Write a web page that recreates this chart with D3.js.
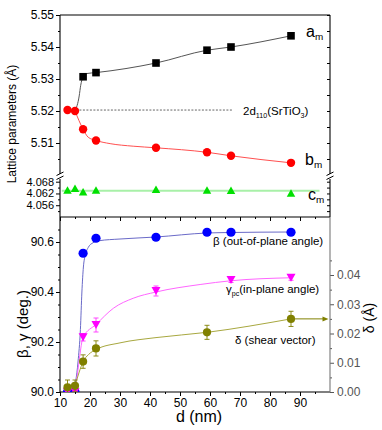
<!DOCTYPE html>
<html>
<head>
<meta charset="utf-8">
<script src="https://cdn.jsdelivr.net/npm/d3@7"></script>
<style>
  body { margin: 0; background: #fff; }
  text { font-family: Arial, "Liberation Sans", sans-serif; }
</style>
</head>
<body>
<div id="chart"></div>
<script>
// film thickness d (nm)
const thickness = [12.5, 15, 17.7, 22, 42, 59, 67, 87];

// top panel: lattice parameters (A)
const aD = [17.7, 22, 42, 59, 67, 87];
const aM = [5.5307, 5.532, 5.535, 5.539, 5.540, 5.5435];
const bM = [5.5203, 5.5200, 5.5143, 5.5108, 5.5085, 5.5071, 5.5060, 5.5038];
const cM = [4.0638, 4.0646, 4.0629, 4.0638, 4.0641, 4.0638, 4.0636, 4.0622];

// fitted guide curves
const aFitD = [15, 16.4, 16.9, 17.7, 18.9, 22, 42, 59, 67, 87];
const aFit = [5.520, 5.5247, 5.528, 5.5307, 5.5317, 5.532, 5.535, 5.539, 5.540, 5.5435];
const bFitD = [15, 17.7, 19.4, 22, 26.7, 34.4, 42, 59, 67, 87];
const bFit = [5.520, 5.5143, 5.5118, 5.5108, 5.5098, 5.509, 5.5085, 5.5071, 5.506, 5.5038];
const cRefD = [10.6, 96.5];
const cRef = 4.0634;
const stoD = [15.3, 67.8];
const sto = 5.5203;

// bottom panel: angles (deg.) and shear vector (A)
const beta = [90.0, 90.0, 90.555, 90.615, 90.619, 90.639, 90.639, 90.639];
const betaFitD = [14.5, 16, 16.8, 17.3, 17.8, 18.5, 19.5, 21, 23, 30, 42, 59, 67, 87];
const betaFit = [90.0, 90.12, 90.25, 90.4, 90.5, 90.55, 90.58, 90.597, 90.605, 90.612, 90.62, 90.636, 90.638, 90.64];

const gammaD = [12.5, 15, 17.7, 22, 42, 67, 87];
const gamma = [90.0, 90.0, 90.219, 90.268, 90.404, 90.448, 90.457];
const gammaErr = [0, 0, 0.015, 0.028, 0.02, 0.01, 0.01];
const gammaFitD = [15, 16, 17.7, 22, 27.8, 34.4, 42, 56.7, 67, 87];
const gammaFit = [90.0, 90.09, 90.219, 90.27, 90.335, 90.375, 90.40, 90.43, 90.445, 90.457];

const deltaD = [12.5, 15, 17.7, 22, 59, 87];
const delta = [0.0016, 0.0021, 0.0104, 0.0149, 0.0204, 0.025];
const deltaErr = [0.0025, 0.002, 0.0023, 0.0026, 0.0024, 0.0026];
const deltaFitD = [15, 16.3, 17.7, 19.5, 22, 30, 42, 59, 87];
const deltaFit = [0.0021, 0.0065, 0.0104, 0.0128, 0.0145, 0.0168, 0.0186, 0.0204, 0.025];
const arrowD = [87, 99.5];

// ticks
const xMajor = [10, 20, 30, 40, 50, 60, 70, 80, 90];
const xMinor = [15, 25, 35, 45, 55, 65, 75, 85, 95];
const aTicks = [5.51, 5.52, 5.53, 5.54, 5.55];
const aMinor = [5.505, 5.515, 5.525, 5.535, 5.545];
const cTicks = [4.056, 4.062, 4.068];
const cMinor = [4.053, 4.059, 4.065];
const bTicks = [90.0, 90.2, 90.4, 90.6];
const bMinor = [90.05, 90.1, 90.15, 90.25, 90.3, 90.35, 90.45, 90.5, 90.55, 90.65];
const dTicks = [0, 0.01, 0.02, 0.03, 0.04];
const dMinor = [0.005, 0.015, 0.025, 0.035, 0.045];

var svgwidth = 382;
var svgheight = 430;

var svg = d3.select('#chart')
    .append('svg')
    .attr('width', svgwidth)
    .attr('height', svgheight);

var x = d3.scaleLinear().domain([10, 100]).range([60, 330]);
var yA = d3.scaleLinear().domain([5.50, 5.55]).range([175, 15]);
var yC = d3.scaleLinear().domain([4.050, 4.0707]).range([217, 176.4]);
var yB = d3.scaleLinear().domain([90.0, 90.7]).range([392, 217]);
var yD = d3.scaleLinear().domain([0, 0.06]).range([392, 216.5]);

function drawAxis(gen, tx, ty, color) {
    var g = svg.append('g')
        .attr('transform', `translate(${tx}, ${ty})`)
        .call(gen);
    g.select('.domain').remove();
    g.selectAll('line').attr('stroke', color || '#000');
    g.selectAll('text').style('font-size', '12px').attr('fill', color || '#000');
    return g;
}

// top panel axes
drawAxis(d3.axisLeft(yA).tickValues(aTicks).tickFormat(d3.format('.2f')).tickSize(4).tickPadding(2), 60, 0);
drawAxis(d3.axisLeft(yA).tickValues(aMinor).tickFormat('').tickSize(2), 60, 0);
drawAxis(d3.axisLeft(yC).tickValues(cTicks).tickFormat(d3.format('.3f')).tickSize(4).tickPadding(2), 60, 0)
    .selectAll('text').style('font-size', '11px');
drawAxis(d3.axisLeft(yC).tickValues(cMinor).tickFormat('').tickSize(2), 60, 0);
drawAxis(d3.axisLeft(yA).tickValues(aTicks.concat(aMinor)).tickFormat('').tickSize(3), 330, 0);
drawAxis(d3.axisLeft(yC).tickValues(cTicks.concat(cMinor)).tickFormat('').tickSize(3), 330, 0);
drawAxis(d3.axisBottom(x).tickValues(xMajor).tickFormat('').tickSize(4), 0, 217);
drawAxis(d3.axisBottom(x).tickValues(xMinor).tickFormat('').tickSize(2), 0, 217);

// bottom panel axes
drawAxis(d3.axisLeft(yB).tickValues(bTicks).tickFormat(d3.format('.1f')).tickSize(4).tickPadding(2), 60, 0);
drawAxis(d3.axisLeft(yB).tickValues(bMinor).tickFormat('').tickSize(2), 60, 0);
drawAxis(d3.axisBottom(x).tickValues(xMajor).tickFormat(d3.format('d')).tickSize(4).tickPadding(2), 0, 392);
drawAxis(d3.axisBottom(x).tickValues(xMinor).tickFormat('').tickSize(2), 0, 392);
drawAxis(d3.axisRight(yD).tickValues(dTicks).tickFormat(d3.format('.2f')).tickSize(4).tickPadding(3), 330, 0, '#555');
drawAxis(d3.axisRight(yD).tickValues(dMinor).tickFormat('').tickSize(2), 330, 0, '#555');

// frame lines
var frame = svg.append('g').attr('stroke', '#000').attr('stroke-width', 1.1);
[[60, 15, 330, 15], [60, 15, 60, 174], [60, 179, 60, 392], [330, 15, 330, 174], [330, 179, 330, 217],
 [60, 217, 330, 217], [60, 392, 330, 392]].forEach(l => {
    frame.append('line').attr('x1', l[0]).attr('y1', l[1]).attr('x2', l[2]).attr('y2', l[3]);
});
svg.append('line').attr('x1', 330).attr('y1', 217).attr('x2', 330).attr('y2', 392)
    .attr('stroke', '#777').attr('stroke-width', 1.1);

// axis break marks
[60, 330].forEach(bx => {
    svg.append('line').attr('x1', bx - 3.5).attr('y1', 175.5).attr('x2', bx + 3.5).attr('y2', 172)
        .attr('stroke', '#000');
    svg.append('line').attr('x1', bx - 3.5).attr('y1', 179.5).attr('x2', bx + 3.5).attr('y2', 176)
        .attr('stroke', '#000');
});

// top panel data
var curve = d3.curveMonotoneX;
var lineA = d3.line().x(d => x(d[0])).y(d => yA(d[1])).curve(curve);
var lineC = d3.line().x(d => x(d[0])).y(d => yC(d[1]));

svg.append('path')
    .datum(stoD.map(d => [d, sto]))
    .attr('d', d3.line().x(d => x(d[0])).y(d => yA(d[1])))
    .attr('stroke', '#222').attr('stroke-width', 0.7).attr('stroke-dasharray', '2,1.5')
    .attr('fill', 'none');

svg.append('path')
    .datum(cRefD.map(d => [d, cRef]))
    .attr('d', lineC)
    .attr('stroke', '#a8f0a8').attr('stroke-width', 2).attr('fill', 'none');

svg.append('path')
    .datum(aFitD.map((d, i) => [d, aFit[i]]))
    .attr('d', lineA)
    .attr('stroke', '#555').attr('stroke-width', 1).attr('fill', 'none');

svg.append('path')
    .datum(bFitD.map((d, i) => [d, bFit[i]]))
    .attr('d', lineA)
    .attr('stroke', '#ff5050').attr('stroke-width', 1).attr('fill', 'none');

svg.selectAll('.sq')
    .data(aD.map((d, i) => [d, aM[i]]))
    .enter().append('rect')
    .attr('x', d => x(d[0]) - 3.8).attr('y', d => yA(d[1]) - 3.8)
    .attr('width', 7.6).attr('height', 7.6)
    .attr('fill', '#000');

svg.selectAll('.bc')
    .data(thickness.map((d, i) => [d, bM[i]]))
    .enter().append('circle')
    .attr('cx', d => x(d[0])).attr('cy', d => yA(d[1]))
    .attr('r', 4.2).attr('fill', '#ff0000');

function triUp(cx, cy, w, h) {
    return `M${cx - w / 2},${cy + h / 2}L${cx + w / 2},${cy + h / 2}L${cx},${cy - h / 2}Z`;
}
function triDown(cx, cy, w, h) {
    return `M${cx - w / 2},${cy - h / 2}L${cx + w / 2},${cy - h / 2}L${cx},${cy + h / 2}Z`;
}

svg.selectAll('.ct')
    .data(thickness.map((d, i) => [d, cM[i]]))
    .enter().append('path')
    .attr('d', d => triUp(x(d[0]), yC(d[1]), 8.5, 7.5))
    .attr('fill', '#00e000');

// bottom panel data, clipped to the plot area
svg.append('clipPath').attr('id', 'clipB')
    .append('rect').attr('x', 60).attr('y', 217).attr('width', 270).attr('height', 175);
var gb = svg.append('g').attr('clip-path', 'url(#clipB)');

var lineB = d3.line().x(d => x(d[0])).y(d => yB(d[1])).curve(curve);
var lineD = d3.line().x(d => x(d[0])).y(d => yD(d[1])).curve(curve);

gb.append('path')
    .datum(betaFitD.map((d, i) => [d, betaFit[i]]))
    .attr('d', lineB)
    .attr('stroke', '#6a6ac8').attr('stroke-width', 1).attr('fill', 'none');

gb.append('path')
    .datum(gammaFitD.map((d, i) => [d, gammaFit[i]]))
    .attr('d', lineB)
    .attr('stroke', '#ff66ff').attr('stroke-width', 1).attr('fill', 'none');

gb.append('path')
    .datum(deltaFitD.map((d, i) => [d, deltaFit[i]]))
    .attr('d', lineD)
    .attr('stroke', '#a8a840').attr('stroke-width', 1).attr('fill', 'none');

gb.selectAll('.bb')
    .data(thickness.map((d, i) => [d, beta[i]]))
    .enter().append('circle')
    .attr('cx', d => x(d[0])).attr('cy', d => yB(d[1]))
    .attr('r', 4.6).attr('fill', '#0000ff');

function errorBars(g, data, ys, color) {
    var eb = g.append('g').attr('stroke', color).attr('stroke-width', 0.9);
    data.filter(d => d[2] > 0).forEach(d => {
        var cx = x(d[0]);
        var top = ys(d[1] + d[2]), bot = ys(d[1] - d[2]);
        eb.append('line').attr('x1', cx).attr('x2', cx).attr('y1', top).attr('y2', bot);
        eb.append('line').attr('x1', cx - 2.5).attr('x2', cx + 2.5).attr('y1', top).attr('y2', top);
        eb.append('line').attr('x1', cx - 2.5).attr('x2', cx + 2.5).attr('y1', bot).attr('y2', bot);
    });
}

var gammaData = gammaD.map((d, i) => [d, gamma[i], gammaErr[i]]);
errorBars(gb, gammaData, yB, '#ff33ff');
gb.selectAll('.gt')
    .data(gammaData)
    .enter().append('path')
    .attr('d', d => triDown(x(d[0]), yB(d[1]), 9, 8))
    .attr('fill', '#ff00ff');

var deltaData = deltaD.map((d, i) => [d, delta[i], deltaErr[i]]);
errorBars(gb, deltaData, yD, '#808000');
gb.selectAll('.dc')
    .data(deltaData)
    .enter().append('circle')
    .attr('cx', d => x(d[0])).attr('cy', d => yD(d[1]))
    .attr('r', 4.1).attr('fill', '#808000');

// arrow pointing to the delta axis
var ay = yD(delta[delta.length - 1]);
svg.append('line')
    .attr('x1', x(arrowD[0])).attr('x2', x(arrowD[1]) - 4)
    .attr('y1', ay).attr('y2', ay)
    .attr('stroke', '#808000').attr('stroke-width', 1);
svg.append('path')
    .attr('d', `M${x(arrowD[1])},${ay}L${x(arrowD[1]) - 6},${ay - 2.5}L${x(arrowD[1]) - 6},${ay + 2.5}Z`)
    .attr('fill', '#808000');

// labels
function subLabel(tx, ty, parts, size) {
    var t = svg.append('text').attr('x', tx).attr('y', ty).style('font-size', size + 'px').attr('fill', '#000');
    var shift = 0;
    parts.forEach(p => {
        var s = p[1] ? 3 : 0;
        t.append('tspan')
            .attr('dy', s - shift)
            .style('font-size', (p[1] ? size * 0.62 : size) + 'px')
            .text(p[0]);
        shift = s;
    });
    return t;
}

subLabel(306, 37, [['a'], ['m', 1]], 16);
subLabel(305, 165, [['b'], ['m', 1]], 16);
subLabel(308, 200, [['c'], ['m', 1]], 16);
subLabel(243, 115, [['2d'], ['110', 1], ['(SrTiO'], ['3', 1], [')']], 11.5);
subLabel(213, 245, [['β (out-of-plane angle)']], 11.5);
subLabel(226, 293, [['γ'], ['pc', 1], ['(in-plane angle)']], 11.5);
subLabel(235, 344, [['δ (shear vector)']], 11.5);

svg.append('text')
    .attr('transform', 'translate(16, 124) rotate(-90)')
    .attr('text-anchor', 'middle')
    .style('font-size', '12px')
    .text('Lattice parameters (Å)');

svg.append('text')
    .attr('transform', 'translate(28, 324) rotate(-90)')
    .attr('text-anchor', 'middle')
    .style('font-size', '15px')
    .text('β, γ (deg.)');

svg.append('text')
    .attr('transform', 'translate(374, 318) rotate(-90)')
    .attr('text-anchor', 'middle')
    .style('font-size', '14px')
    .text('δ (Å)');

svg.append('text')
    .attr('x', 199).attr('y', 422)
    .attr('text-anchor', 'middle')
    .style('font-size', '16px')
    .text('d (nm)');
</script>
</body>
</html>
